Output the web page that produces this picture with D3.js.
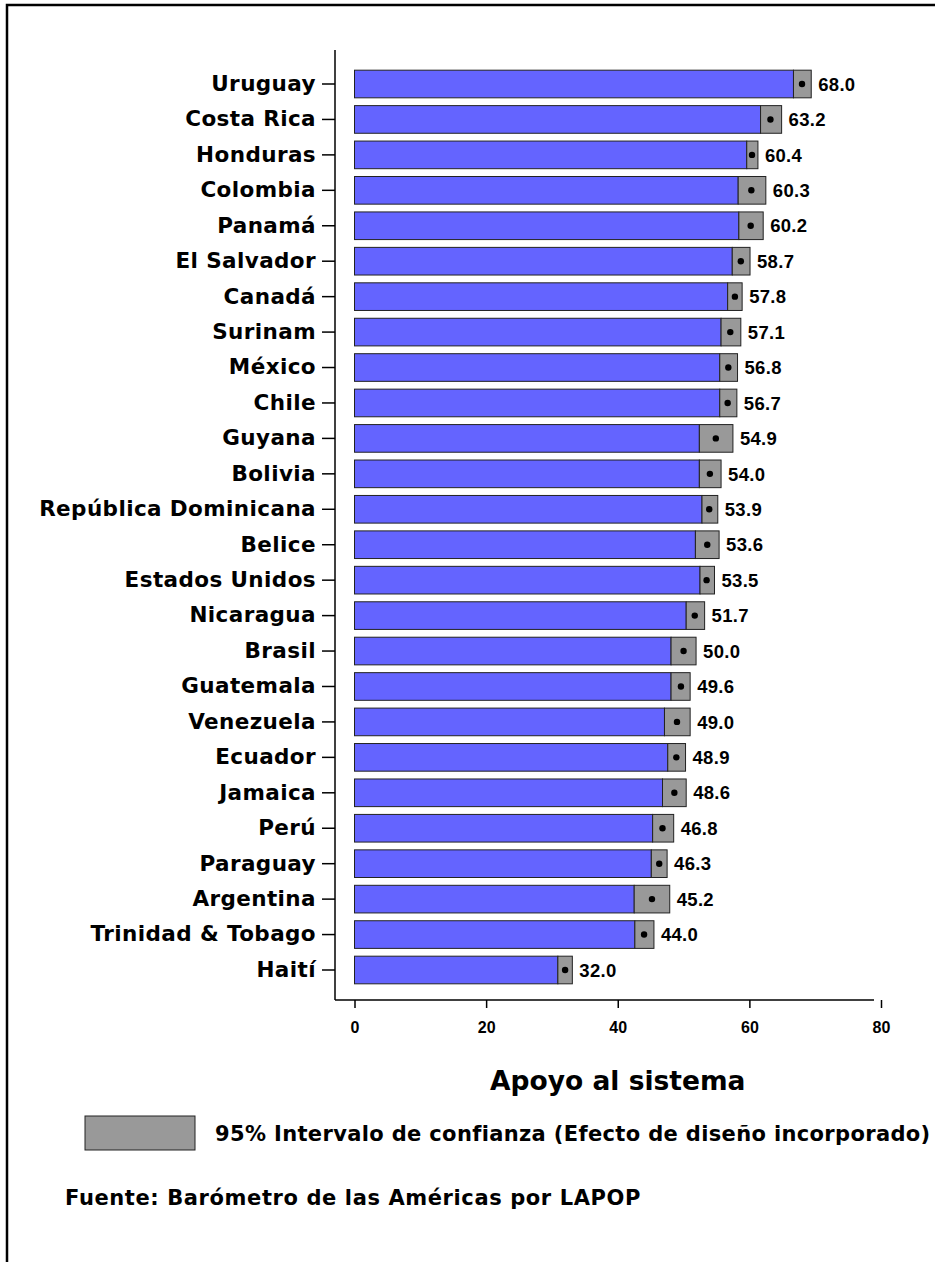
<!DOCTYPE html>
<html><head><meta charset="utf-8">
<script src="https://cdn.jsdelivr.net/npm/d3@7"></script>
<style>
html,body{margin:0;padding:0;background:#fff;}
svg{display:block;}
</style></head>
<body>
<script>
const countries = ["Uruguay","Costa Rica","Honduras","Colombia","Panamá","El Salvador","Canadá","Surinam","México","Chile","Guyana","Bolivia","República Dominicana","Belice","Estados Unidos","Nicaragua","Brasil","Guatemala","Venezuela","Ecuador","Jamaica","Perú","Paraguay","Argentina","Trinidad & Tobago","Haití"];
const means = [68.0,63.2,60.4,60.3,60.2,58.7,57.8,57.1,56.8,56.7,54.9,54.0,53.9,53.6,53.5,51.7,50.0,49.6,49.0,48.9,48.6,46.8,46.3,45.2,44.0,32.0];
const ciLow = [66.7,61.7,59.6,58.3,58.4,57.4,56.7,55.7,55.5,55.5,52.4,52.4,52.8,51.8,52.5,50.4,48.1,48.1,47.1,47.6,46.8,45.3,45.1,42.5,42.6,30.9];
const ciHigh = [69.4,64.9,61.3,62.5,62.1,60.1,58.9,58.7,58.2,58.1,57.5,55.7,55.2,55.4,54.7,53.2,51.9,51.0,51.0,50.3,50.4,48.5,47.5,47.9,45.5,33.1];
const xTicks = [0,20,40,60,80];
const xTitle = "Apoyo al sistema";
const legendLabel = "95% Intervalo de confianza (Efecto de diseño incorporado)";
const sourceLabel = "Fuente: Barómetro de las Américas por LAPOP";

const W = 935, H = 1262;
const svg = d3.select("body").append("svg").attr("width", W).attr("height", H);

// frame
svg.append("rect").attr("x", 7).attr("y", 5).attr("width", 1000).attr("height", 1400)
  .attr("fill", "none").attr("stroke", "#000").attr("stroke-width", 2.5);

const x = d3.scaleLinear().domain([0, 80]).range([354.5, 881]);
const step = 35.44;
const y = d3.scaleBand().domain(countries)
  .range([84 - step/2, 84 + step*25 + step/2])
  .paddingInner(0.22).paddingOuter(0.11);

const data = countries.map((c,i)=>({c, m:means[i], lo:ciLow[i], hi:ciHigh[i]}));

const labelFont = "'DejaVu Sans', Verdana, sans-serif";
const numFont = "'Liberation Sans', Arial, sans-serif";

// y axis
const yAxisX = 335;
svg.append("line").attr("x1", yAxisX).attr("x2", yAxisX).attr("y1", 50).attr("y2", 1000)
  .attr("stroke", "#000").attr("stroke-width", 1.5);
const yg = svg.append("g").attr("transform", `translate(${yAxisX},0)`)
  .call(d3.axisLeft(y).tickSize(13).tickPadding(6));
yg.select(".domain").remove();
yg.selectAll(".tick line").attr("stroke", "#000").attr("stroke-width", 1.5);
yg.selectAll(".tick text").attr("font-family", labelFont).attr("font-weight", "bold")
  .attr("font-size", 21.5).attr("letter-spacing", 0.4).attr("fill", "#000");

// x axis
const xAxisY = 1000;
svg.append("line").attr("x1", yAxisX).attr("x2", 874).attr("y1", xAxisY).attr("y2", xAxisY)
  .attr("stroke", "#000").attr("stroke-width", 1.5);
const xg = svg.append("g").attr("transform", `translate(0,${xAxisY})`)
  .call(d3.axisBottom(x).tickValues(xTicks).tickSize(8).tickPadding(14).tickFormat(d3.format("d")));
xg.select(".domain").remove();
xg.selectAll(".tick line").attr("stroke", "#000").attr("stroke-width", 1.5);
xg.selectAll(".tick text").attr("font-family", numFont).attr("font-weight", "bold")
  .attr("font-size", 16).attr("fill", "#000");

// bars
const bh = y.bandwidth();
svg.append("g").selectAll("rect").data(data).join("rect")
  .attr("x", x(0)).attr("y", d=>y(d.c)).attr("width", d=>x(d.lo)-x(0)).attr("height", bh)
  .attr("fill", "#6464ff").attr("stroke", "#222").attr("stroke-width", 1);
svg.append("g").selectAll("rect").data(data).join("rect")
  .attr("x", d=>x(d.lo)).attr("y", d=>y(d.c)).attr("width", d=>x(d.hi)-x(d.lo)).attr("height", bh)
  .attr("fill", "#999999").attr("stroke", "#222").attr("stroke-width", 1);
svg.append("g").selectAll("circle").data(data).join("circle")
  .attr("cx", d=>x(d.m)).attr("cy", d=>y(d.c)+bh/2).attr("r", 3.2).attr("fill", "#000");
svg.append("g").selectAll("text").data(data).join("text")
  .attr("x", d=>x(d.hi)+7).attr("y", d=>y(d.c)+bh/2).attr("dy", "0.36em")
  .attr("font-family", numFont).attr("font-weight", "bold").attr("font-size", 18.5)
  .attr("letter-spacing", 0.3)
  .text(d=>d.m.toFixed(1));

// x title
svg.append("text").attr("x", (x(0)+x(80))/2).attr("y", 1090).attr("text-anchor", "middle")
  .attr("font-family", labelFont).attr("font-weight", "bold").attr("font-size", 26.5)
  .text(xTitle);

// legend
svg.append("rect").attr("x", 85).attr("y", 1116).attr("width", 110).attr("height", 34)
  .attr("fill", "#999999").attr("stroke", "#222").attr("stroke-width", 1);
svg.append("text").attr("x", 215).attr("y", 1141)
  .attr("font-family", labelFont).attr("font-weight", "bold").attr("font-size", 21)
  .attr("letter-spacing", 0.35)
  .text(legendLabel);

svg.append("text").attr("x", 65).attr("y", 1205)
  .attr("font-family", labelFont).attr("font-weight", "bold").attr("font-size", 21)
  .attr("letter-spacing", 0.6)
  .text(sourceLabel);
</script>
</body></html>
